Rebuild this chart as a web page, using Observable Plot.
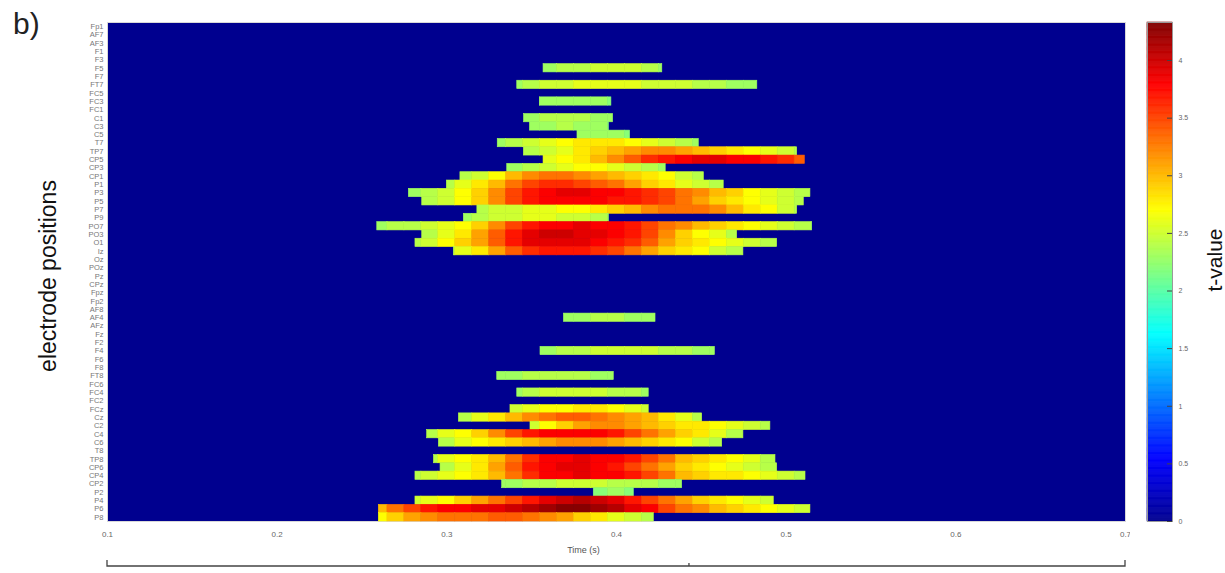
<!DOCTYPE html>
<html><head><meta charset="utf-8">
<script src="https://cdn.jsdelivr.net/npm/d3@7"></script>
<script src="https://cdn.jsdelivr.net/npm/@observablehq/plot@0.6"></script>
<style>
body{margin:0;background:#fff;font-family:"Liberation Sans",Arial,sans-serif;}
#wrap{position:relative;width:1225px;height:573px;overflow:hidden;background:#fff;}
#main{position:absolute;left:0;top:0;}
#cbar{position:absolute;left:1100px;top:0;}
#title{position:absolute;left:13px;top:7px;font-size:30px;color:#222;}
</style></head><body>
<div id="wrap"><div id="main"></div><div id="cbar"></div><div id="title">b)</div></div>
<script>
const electrodes = ["Fp1","AF7","AF3","F1","F3","F5","F7","FT7","FC5","FC3","FC1","C1","C3","C5","T7","TP7","CP5","CP3","CP1","P1","P3","P5","P7","P9","PO7","PO3","O1","Iz","Oz","POz",
  "Pz","CPz","Fpz","Fp2","AF8","AF4","AFz","Fz","F2","F4","F6","F8","FT8","FC6","FC4","FC2","FCz","Cz","C2","C4","C6","T8","TP8","CP6","CP4","CP2","P2","P4","P6","P8"];

// index of the electrode row for each significant cluster row
const rowIndex = [5,7,9,11,12,13,14,15,16,17,18,19,20,21,22,23,24,25,26,27,
  35,39,42,44,46,47,48,49,50,52,53,54,55,56,57,58,59];
// first and last significant time (s) on each of those rows
const startTime = [0.357,0.3415,0.3548,0.3455,0.349,0.377,0.330,0.3454,0.357,0.3356,0.308,0.300,0.2776,0.2855,0.318,0.310,0.259,0.2855,0.2815,0.3041,
  0.369,0.3552,0.3297,0.3415,0.3375,0.3071,0.3493,0.2884,0.2953,0.2924,0.2963,0.2815,0.3326,0.3866,0.2815,0.2599,0.2599];
const endTime = [0.427,0.483,0.397,0.398,0.3955,0.408,0.4485,0.5065,0.511,0.429,0.4515,0.4632,0.5143,0.5104,0.5065,0.3955,0.5153,0.4711,0.4947,0.4748,
  0.423,0.458,0.3984,0.419,0.419,0.4505,0.4907,0.4748,0.4623,0.4937,0.4947,0.5114,0.4387,0.4102,0.4927,0.5143,0.422];
// t-values sampled every 10 ms, from the start of each row's significant window
const tValues = [
  [2.3,2.4,2.4,2.5,2.5,2.5,2.4,2.3],
  [2.3,2.4,2.5,2.5,2.6,2.6,2.6,2.6,2.5,2.5,2.5,2.4,2.4,2.3,2.3],
  [2.3,2.3,2.3,2.3,2.3,2.2],
  [2.3,2.4,2.4,2.4,2.3,2.3],
  [2.3,2.3,2.4,2.3,2.3,2.2],
  [2.3,2.3,2.3,2.2],
  [2.3,2.4,2.5,2.6,2.7,2.8,2.8,2.8,2.7,2.6,2.5,2.4,2.3],
  [2.4,2.5,2.6,2.8,2.9,3.0,3.1,3.2,3.2,3.1,3.0,2.9,2.8,2.7,2.6,2.5,2.4],
  [2.6,2.7,2.8,3.0,3.2,3.4,3.6,3.7,3.8,3.9,3.9,3.8,3.8,3.7,3.6,3.4],
  [2.3,2.4,2.5,2.6,2.7,2.7,2.6,2.5,2.4,2.3],
  [2.4,2.5,2.7,3.0,3.2,3.3,3.3,3.2,3.1,3.0,2.9,2.8,2.7,2.5,2.4],
  [2.4,2.6,2.8,3.0,3.3,3.5,3.6,3.6,3.5,3.4,3.3,3.1,2.9,2.8,2.6,2.5,2.4],
  [2.3,2.4,2.5,2.7,2.9,3.2,3.5,3.7,3.8,3.9,3.9,3.8,3.8,3.7,3.6,3.5,3.3,3.2,3.0,2.9,2.7,2.6,2.5,2.4],
  [2.4,2.5,2.7,2.9,3.2,3.5,3.7,3.8,3.8,3.8,3.8,3.7,3.7,3.6,3.5,3.3,3.1,2.9,2.8,2.7,2.6,2.5,2.4],
  [2.4,2.5,2.5,2.6,2.6,2.7,2.7,2.8,2.9,3.0,3.2,3.3,3.3,3.3,3.2,3.0,2.8,2.7,2.5,2.4],
  [2.3,2.4,2.5,2.5,2.6,2.6,2.5,2.5,2.4,2.3],
  [2.3,2.4,2.4,2.5,2.6,2.7,2.9,3.2,3.5,3.7,3.8,3.8,3.9,3.8,3.8,3.7,3.5,3.3,3.2,3.0,2.9,2.8,2.7,2.6,2.5,2.4,2.3],
  [2.4,2.6,2.8,3.1,3.4,3.7,3.9,4.0,4.0,3.9,3.9,3.8,3.7,3.5,3.2,2.9,2.7,2.6,2.4],
  [2.4,2.5,2.7,2.9,3.1,3.4,3.7,3.9,3.9,3.9,3.9,3.8,3.7,3.6,3.4,3.1,2.9,2.8,2.7,2.6,2.5,2.4],
  [2.4,2.6,2.8,3.1,3.4,3.6,3.7,3.7,3.7,3.6,3.5,3.3,3.1,2.9,2.8,2.7,2.5,2.4],
  [2.3,2.3,2.4,2.4,2.3,2.3],
  [2.3,2.4,2.4,2.5,2.5,2.5,2.5,2.4,2.4,2.3,2.3],
  [2.3,2.3,2.4,2.4,2.4,2.4,2.3,2.3],
  [2.3,2.4,2.5,2.5,2.5,2.5,2.4,2.4,2.3],
  [2.5,2.6,2.7,2.7,2.8,2.8,2.7,2.6,2.5],
  [2.4,2.6,2.8,3.0,3.2,3.3,3.4,3.4,3.3,3.2,3.1,3.0,2.8,2.6,2.4],
  [2.5,2.7,2.9,3.1,3.2,3.2,3.1,3.0,2.9,2.8,2.8,2.7,2.6,2.5,2.4],
  [2.4,2.6,2.7,2.9,3.2,3.5,3.7,3.8,3.8,3.8,3.8,3.7,3.5,3.3,3.1,2.9,2.8,2.6,2.4],
  [2.4,2.6,2.7,2.8,2.9,3.0,3.1,3.2,3.2,3.2,3.1,3.0,2.9,2.8,2.7,2.5,2.4],
  [2.4,2.6,2.7,2.8,3.0,3.3,3.6,3.8,3.8,3.9,3.8,3.8,3.7,3.5,3.3,3.0,2.9,2.8,2.7,2.6,2.4],
  [2.4,2.6,2.8,3.1,3.4,3.7,3.8,3.9,3.9,3.8,3.7,3.5,3.3,3.1,2.9,2.8,2.7,2.6,2.5,2.4],
  [2.4,2.5,2.6,2.7,2.8,3.0,3.3,3.6,3.8,3.8,3.9,3.8,3.8,3.7,3.5,3.3,3.0,2.9,2.8,2.8,2.7,2.6,2.5,2.4],
  [2.3,2.3,2.4,2.4,2.5,2.5,2.5,2.4,2.4,2.4,2.3,2.3],
  [2.2,2.3,2.2],
  [2.5,2.6,2.7,2.9,3.1,3.3,3.5,3.7,3.9,4.0,4.1,4.0,3.9,3.7,3.5,3.3,3.1,2.9,2.8,2.7,2.6,2.5],
  [3.0,3.3,3.5,3.7,3.8,3.8,3.9,3.9,4.0,4.1,4.2,4.3,4.3,4.2,4.1,3.9,3.8,3.5,3.3,3.2,3.0,2.9,2.8,2.7,2.6,2.5],
  [2.7,2.9,3.1,3.2,3.3,3.3,3.3,3.4,3.4,3.3,3.2,3.1,2.9,2.8,2.6,2.5,2.4]
];
const timeTicks = [0.1,0.2,0.3,0.4,0.5,0.6,0.7];
const colorTicks = [0,0.5,1,1.5,2,2.5,3,3.5,4];
const tMax = 4.33;

// jet colour map
const jetColors = ["#00008f","#0000ff","#00ffff","#ffff00","#ff0000","#800000"];
const jetStops = [0,0.125,0.375,0.625,0.875,1];
const colorScale = {type:"linear", domain: jetStops.map(f => f*tMax), range: jetColors, clamp: true};

// build cells
const cells = [];
rowIndex.forEach((r, j) => {
  const s = startTime[j], e = endTime[j], vals = tValues[j];
  const k0 = Math.round(s*100);
  vals.forEach((v, k) => {
    const tc = (k0 + k)/100;
    const x1 = k === 0 ? s : tc - 0.005;
    const x2 = k === vals.length - 1 ? e : tc + 0.005;
    if (x2 > x1) cells.push({electrode: electrodes[r], x1, x2, v});
  });
});

const font = "Liberation Sans, Arial, sans-serif";
const main = Plot.plot({
  width: 1130, height: 573,
  marginLeft: 107, marginRight: 5, marginTop: 22, marginBottom: 52,
  x: {domain: [0.1, 0.7]},
  y: {domain: electrodes, padding: 0, round: false},
  color: colorScale,
  style: {fontFamily: font, background: "transparent", color: "#666"},
  marks: [
    Plot.frame({fill: jetColors[0], stroke: "#d8d8d8"}),
    Plot.barX(cells, {x1: "x1", x2: "x2", y: "electrode", fill: "v", stroke: "v", strokeWidth: 0.6}),
    Plot.axisX({ticks: timeTicks, tickSize: 0, tickPadding: 10, fontSize: 8, label: null, fill: "#666", tickFormat: d => String(d)}),
    Plot.axisY({tickSize: 0, tickPadding: 4, fontSize: 7.5, label: null, fill: "#777"}),
    Plot.text(["Time (s)"], {text: d => d, frameAnchor: "bottom", dx: -33, dy: 31, fontSize: 9, fill: "#555"}),
    Plot.text(["electrode positions"], {text: d => d, frameAnchor: "left", textAnchor: "middle", dx: -59, dy: 4, rotate: -90, fontSize: 23, fill: "#111"})
  ]
});
document.getElementById("main").appendChild(main);

// bracket under the axis
const svg = d3.select(main);
const xs = main.scale("x");
const bx1 = xs.apply(0.1), bx2 = xs.apply(0.7), bxm = xs.apply(0.443);
svg.append("path")
  .attr("d", `M${bx1},560V566H${bx2}V560M${bxm},566V563`)
  .attr("fill", "none").attr("stroke", "#444").attr("stroke-width", 1.3);

// colour bar
const ramp = d3.range(0, 433).map(i => i/100);
const cbar = Plot.plot({
  width: 125, height: 573,
  marginLeft: 47, marginRight: 53, marginTop: 22, marginBottom: 52,
  x: {domain: [0, 1], axis: null},
  y: {domain: [0, tMax], axis: null},
  color: colorScale,
  style: {fontFamily: font, background: "transparent", color: "#666"},
  marks: [
    Plot.rect(ramp, {x1: 0, x2: 1, y1: d => d, y2: d => Math.min(d + 0.01, tMax), fill: d => d + 0.005, stroke: d => d + 0.005, strokeWidth: 0.6}),
    Plot.frame({stroke: "#999"}),
    Plot.ruleY(colorTicks, {y: d => d, x1: 0.8, x2: 1, stroke: "#444"}),
    Plot.axisY({anchor: "right", ticks: colorTicks, tickSize: 0, tickPadding: 6, fontSize: 7, label: null, fill: "#666", tickFormat: d => String(d)}),
    Plot.text(["t-value"], {text: d => d, frameAnchor: "right", textAnchor: "middle", dx: 43, dy: -12, rotate: -90, fontSize: 21, fill: "#111"})
  ]
});
document.getElementById("cbar").appendChild(cbar);
</script>
</body></html>
